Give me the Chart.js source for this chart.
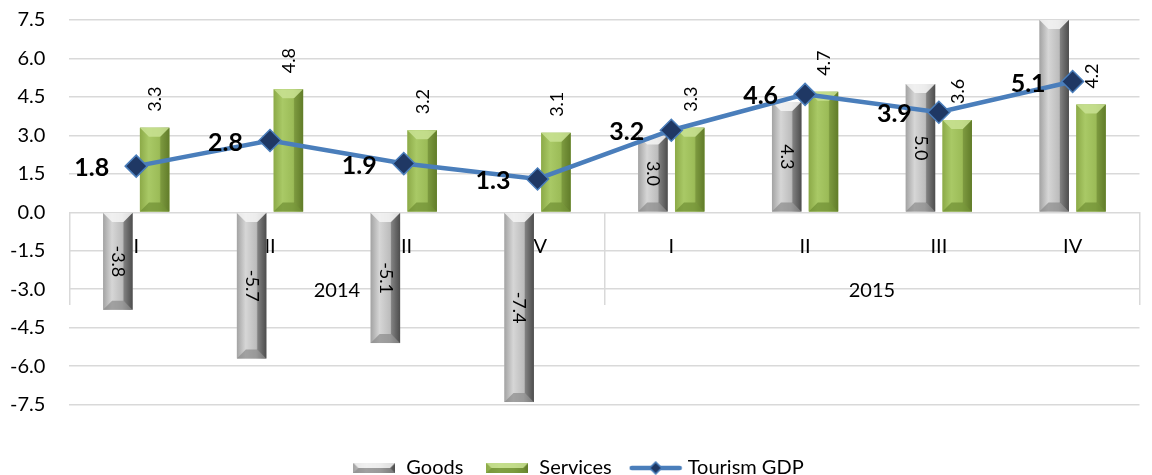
<!DOCTYPE html>
<html lang="en">
<head>
    <meta charset="UTF-8">
    <title>Tourism GDP</title>
    <script src="https://cdn.jsdelivr.net/npm/chart.js@4.4.0/dist/chart.umd.min.js"></script>
    <style>
        html, body { margin: 0; padding: 0; background: #fff; }
    </style>
</head>
<body>
    <canvas id="myChart" width="1152" height="475"></canvas>
    <script>
        var quarters = ['I', 'II', 'III', 'IV', 'I', 'II', 'III', 'IV'];
        var years = ['2014', '2015'];
        var quartersPerYear = 4;
        var goods = [-3.8, -5.7, -5.1, -7.4, 3.0, 4.3, 5.0, 7.9];
        var services = [3.3, 4.8, 3.2, 3.1, 3.3, 4.7, 3.6, 4.2];
        var tourismGdp = [1.8, 2.8, 1.9, 1.3, 3.2, 4.6, 3.9, 5.1];
        var yMin = -7.5;
        var yMax = 7.5;
        var yStep = 1.5;

        // year groups on the category axis: separators between groups, label in the middle
        var yearBounds = [-0.5];
        var yearCentres = [];
        years.forEach(function (y, i) {
            yearCentres.push(i * quartersPerYear + (quartersPerYear - 1) / 2);
            yearBounds.push((i + 1) * quartersPerYear - 0.5);
        });

        var palettes = {
            Goods: { left: '#a3a3a3', mid: '#d6d6d6', mid2: '#bdbdbd', right: '#4d4d4d', top: '#f4f4f4', bottom: '#8a8a8a' },
            Services: { left: '#8caa48', mid: '#a9c966', mid2: '#9cbc58', right: '#627d2a', top: '#c9e293', bottom: '#6f8e33' }
        };

        function paintBar(ctx, x0, x1, top, bottom, p) {
            var w = x1 - x0, h = bottom - top;
            if (w <= 0 || h <= 0) return;
            var b = Math.min(9, w / 2, h / 2);
            var g = ctx.createLinearGradient(x0, 0, x1, 0);
            g.addColorStop(0, p.left);
            g.addColorStop(0.3, p.mid);
            g.addColorStop(0.65, p.mid2);
            g.addColorStop(1, p.right);
            ctx.fillStyle = g;
            ctx.fillRect(x0, top, w, h);
            // top face
            ctx.fillStyle = p.top;
            ctx.globalAlpha = 0.85;
            ctx.beginPath();
            ctx.moveTo(x0, top); ctx.lineTo(x1, top); ctx.lineTo(x1 - b, top + b); ctx.lineTo(x0 + b, top + b);
            ctx.closePath(); ctx.fill();
            // bottom face
            ctx.fillStyle = p.bottom;
            ctx.globalAlpha = 0.7;
            ctx.beginPath();
            ctx.moveTo(x0, bottom); ctx.lineTo(x1, bottom); ctx.lineTo(x1 - b, bottom - b); ctx.lineTo(x0 + b, bottom - b);
            ctx.closePath(); ctx.fill();
            // right side
            ctx.fillStyle = p.right;
            ctx.globalAlpha = 0.45;
            ctx.beginPath();
            ctx.moveTo(x1, top); ctx.lineTo(x1, bottom); ctx.lineTo(x1 - b, bottom - b); ctx.lineTo(x1 - b, top + b);
            ctx.closePath(); ctx.fill();
            ctx.globalAlpha = 1;
        }

        function barIcon(p) {
            var c = document.createElement('canvas');
            c.width = 42; c.height = 10;
            paintBar(c.getContext('2d'), 0, 42, 0, 10, p);
            return c;
        }

        function lineIcon() {
            var c = document.createElement('canvas');
            c.width = 54; c.height = 14;
            var x = c.getContext('2d');
            x.strokeStyle = '#4a7ebb'; x.lineWidth = 4.5; x.lineCap = 'round';
            x.beginPath(); x.moveTo(3, 7); x.lineTo(51, 7); x.stroke();
            x.fillStyle = '#1f3864'; x.strokeStyle = '#4a7ebb'; x.lineWidth = 1.5;
            x.beginPath(); x.moveTo(21, 7); x.lineTo(27, 1); x.lineTo(33, 7); x.lineTo(27, 13); x.closePath();
            x.fill(); x.stroke();
            return c;
        }

        var legendIcons = {
            Goods: barIcon(palettes.Goods),
            Services: barIcon(palettes.Services),
            'Tourism GDP': lineIcon()
        };

        var bevelPlugin = {
            id: 'bevel',
            afterDatasetDraw: function (chart, args) {
                var ds = chart.data.datasets[args.index];
                var p = palettes[ds.label];
                if (!p) return;
                var ctx = chart.ctx, area = chart.chartArea;
                ctx.save();
                ctx.beginPath();
                ctx.rect(area.left, area.top, area.right - area.left, area.bottom - area.top);
                ctx.clip();
                args.meta.data.forEach(function (el) {
                    var top = Math.max(Math.min(el.y, el.base), area.top);
                    var bottom = Math.min(Math.max(el.y, el.base), area.bottom);
                    paintBar(ctx, el.x - el.width / 2, el.x + el.width / 2, top, bottom, p);
                });
                ctx.restore();
            }
        };

        var labelPlugin = {
            id: 'valueLabels',
            afterDatasetsDraw: function (chart) {
                var ctx = chart.ctx, area = chart.chartArea;
                chart.data.datasets.forEach(function (ds, i) {
                    var meta = chart.getDatasetMeta(i);
                    meta.data.forEach(function (el, j) {
                        var txt = ds.data[j].toFixed(1);
                        ctx.save();
                        ctx.fillStyle = '#000';
                        ctx.textBaseline = 'middle';
                        if (ds.type === 'line') {
                            ctx.font = 'bold 25px Lato';
                            ctx.textAlign = 'right';
                            ctx.fillText(txt, el.x - 27, el.y + 2);
                        } else if (ds.label === 'Goods') {
                            if (el.y >= area.top) {
                                ctx.font = '18px Lato';
                                ctx.textAlign = 'center';
                                ctx.translate(el.x, (el.y + el.base) / 2);
                                ctx.rotate(Math.PI / 2);
                                ctx.fillText(txt, 0, 0);
                            }
                        } else {
                            ctx.font = '18px Lato';
                            ctx.textAlign = 'left';
                            ctx.translate(el.x + 1, el.y - 16);
                            ctx.rotate(-Math.PI / 2);
                            ctx.fillText(txt, 0, 0);
                        }
                        ctx.restore();
                    });
                });
            }
        };

        function isYearCentre(c) {
            return !!(c && c.tick && yearCentres.indexOf(c.tick.value) >= 0);
        }

        Chart.defaults.font.family = 'Lato';
        Chart.defaults.color = '#000';

        var ctx = document.getElementById('myChart');
        var myChart = new Chart(ctx, {
            type: 'bar',
            data: {
                labels: quarters,
                datasets: [{
                    label: 'Goods',
                    data: goods,
                    backgroundColor: '#bfbfbf',
                    order: 1,
                    barPercentage: 0.8,
                    categoryPercentage: 0.55
                }, {
                    label: 'Services',
                    data: services,
                    backgroundColor: '#9bbb59',
                    order: 1,
                    barPercentage: 0.8,
                    categoryPercentage: 0.55
                }, {
                    type: 'line',
                    label: 'Tourism GDP',
                    data: tourismGdp,
                    borderColor: '#4a7ebb',
                    borderWidth: 4.5,
                    tension: 0,
                    pointStyle: 'rectRot',
                    pointRadius: 11,
                    pointBackgroundColor: '#1f3864',
                    pointBorderColor: '#4a7ebb',
                    pointBorderWidth: 1.5,
                    order: 0
                }]
            },
            options: {
                responsive: false,
                animation: false,
                events: [],
                layout: {
                    padding: { top: 20, left: 10, right: 6, bottom: -13 }
                },
                scales: {
                    x: {
                        type: 'category',
                        position: { y: 0 },
                        offset: true,
                        grid: { display: false, drawTicks: false },
                        border: { display: false },
                        ticks: {
                            padding: 22,
                            font: { size: 20 },
                            maxRotation: 0,
                            autoSkip: false
                        }
                    },
                    x2: {
                        type: 'linear',
                        position: { y: 0 },
                        offset: false,
                        min: yearBounds[0],
                        max: yearBounds[yearBounds.length - 1],
                        afterBuildTicks: function (axis) {
                            axis.ticks = yearBounds.concat(yearCentres).sort(function (a, b) { return a - b; })
                                .map(function (v) { return { value: v }; });
                        },
                        grid: {
                            offset: false,
                            drawOnChartArea: false,
                            tickLength: 93,
                            lineWidth: 1.5,
                            tickColor: function (c) {
                                return isYearCentre(c) ? 'rgba(0,0,0,0)' : '#d9d9d9';
                            }
                        },
                        border: { display: false },
                        ticks: {
                            padding: -27,
                            autoSkip: false,
                            maxRotation: 0,
                            font: { size: 20 },
                            callback: function (v) {
                                var k = yearCentres.indexOf(v);
                                return k >= 0 ? years[k] : '';
                            }
                        }
                    },
                    y: {
                        min: yMin,
                        max: yMax,
                        grid: {
                            color: '#d9d9d9',
                            lineWidth: 1.5,
                            drawTicks: true,
                            tickLength: 24,
                            tickColor: 'rgba(0,0,0,0)'
                        },
                        border: { display: false },
                        ticks: {
                            stepSize: yStep,
                            padding: 0,
                            font: { size: 20 },
                            callback: function (v) { return v.toFixed(1); }
                        }
                    }
                },
                plugins: {
                    tooltip: { enabled: false },
                    legend: {
                        position: 'bottom',
                        title: { display: true, text: '', padding: { top: 17, bottom: 0 } },
                        labels: {
                            usePointStyle: true,
                            pointStyleWidth: 44,
                            padding: 22,
                            font: { size: 20 },
                            color: '#000',
                            sort: function (a, b) { return a.datasetIndex - b.datasetIndex; },
                            generateLabels: function (chart) {
                                var items = Chart.defaults.plugins.legend.labels.generateLabels(chart);
                                items.forEach(function (it) { it.pointStyle = legendIcons[it.text]; });
                                return items;
                            }
                        }
                    }
                }
            },
            plugins: [bevelPlugin, labelPlugin]
        });
    </script>
</body>
</html>
